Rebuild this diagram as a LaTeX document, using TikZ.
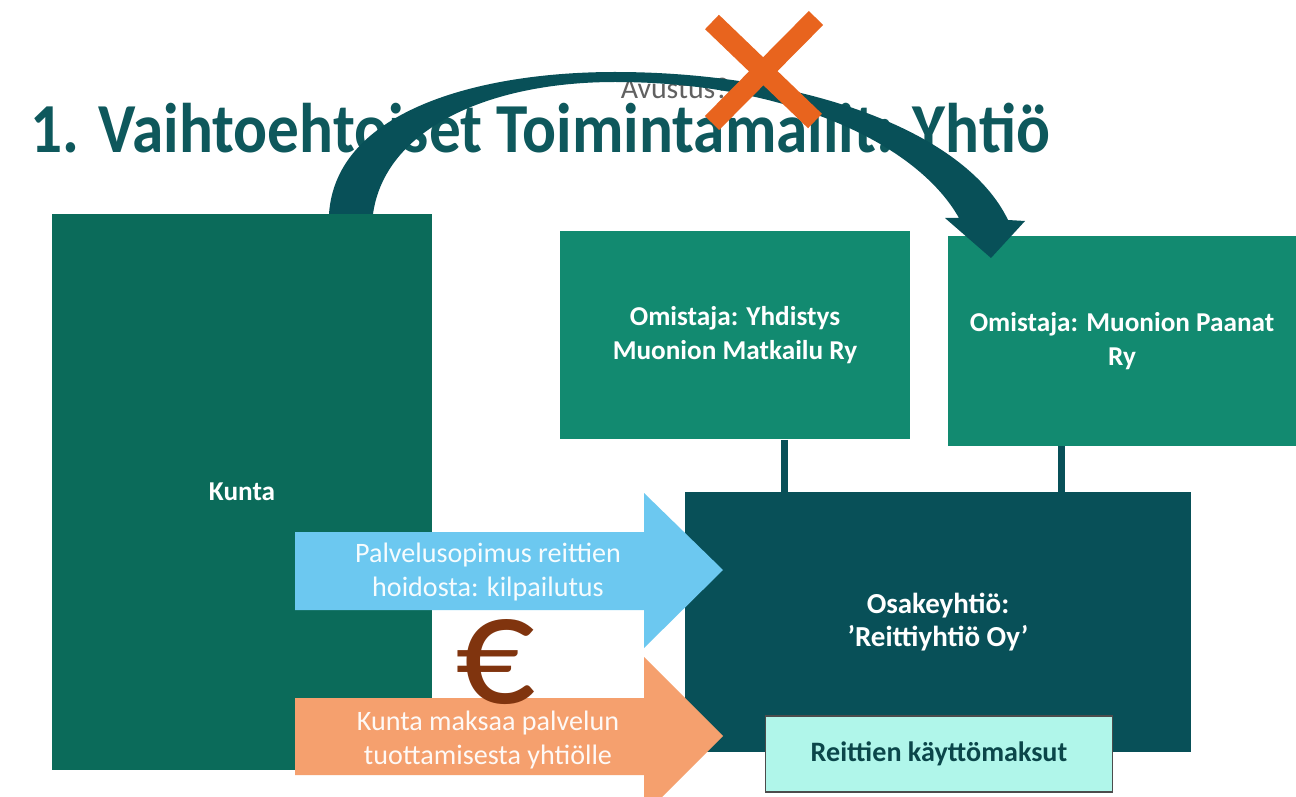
\documentclass[tikz,border=0pt]{standalone}
\usepackage{fontspec}
\setmainfont{Carlito}
\usetikzlibrary{positioning,calc}
\definecolor{kuntagreen}{RGB}{11,107,90}
\definecolor{ownergreen}{RGB}{18,138,112}
\definecolor{companyteal}{RGB}{8,80,88}
\definecolor{titleteal}{RGB}{14,88,92}
\definecolor{skyblue}{RGB}{108,200,240}
\definecolor{peach}{RGB}{245,160,110}
\definecolor{mint}{RGB}{176,246,234}
\definecolor{eurobrown}{RGB}{128,52,14}
\definecolor{crossorange}{RGB}{232,100,30}

\begin{document}
\begin{tikzpicture}[x=0.02cm,y=-0.02cm,
  box/.style={fill=#1,text=white,align=center,inner sep=0pt,font=\bfseries\fontsize{15.5}{19}\selectfont},
  flowtext/.style={text=white!94!#1,align=center,font=\fontsize{16}{19.5}\selectfont},
  link/.style={draw=companyteal,line width=0.14cm}]
\useasboundingbox[fill=white] (0,0) rectangle (1296,797);
\clip (0,0) rectangle (1296,797);
\node[anchor=base west,inner sep=0pt,text=titleteal,font=\bfseries\fontsize{40}{40}\selectfont] (title) at (30,153) {\scalebox{0.9}[1]{1. Vaihtoehtoiset Toimintamallit: Yhtiö}};
\node[text=black!62,font=\fontsize{17}{17}\selectfont] (grant) at (675,88) {Avustus?};
\node[box=kuntagreen,minimum width=7.6cm,minimum height=11.12cm] (kunta) at (242,492) {Kunta};
\node[box=ownergreen,minimum width=7cm,minimum height=4.18cm] (yhd) at (735,335) {Omistaja: Yhdistys\\Muonion Matkailu Ry};
\node[box=ownergreen,minimum width=6.96cm,minimum height=4.2cm] (paanat) at (1122,341) {Omistaja: Muonion Paanat\\Ry};
\node[box=companyteal,minimum width=10.14cm,minimum height=5.2cm,font=\bfseries\fontsize{16.5}{19}\selectfont] (osake) at (938,622) {Osakeyhtiö:\\’Reittiyhtiö Oy’};
\draw[link] ([xshift=1cm]yhd.south) -- ([xshift=1cm]yhd.south |- osake.north);
\draw[link] ([xshift=-1.22cm]paanat.south) -- ([xshift=-1.22cm]paanat.south |- osake.north);
\fill[skyblue] (295,532) -- (644,532) -- (644,493) -- (723,570) -- (644,648) -- (644,610) -- (295,610) -- cycle;
\fill[peach] (295,698) -- (644,698) -- (644,657) -- (723,736) -- (644,815) -- (644,775) -- (295,775) -- cycle;
\node[flowtext=skyblue] (contract) at (488,572) {Palvelusopimus reittien\\hoidosta: kilpailutus};
\node[flowtext=peach] (payment) at (488,740) {Kunta maksaa palvelun\\tuottamisesta yhtiölle};
\node[text=eurobrown,inner sep=0pt,font=\fontsize{90}{90}\selectfont] (euro) at (496,662) {€};
\node[draw=black!70,line width=0.8pt,fill=mint,text=titleteal!80!black,minimum width=6.94cm,minimum height=1.52cm,font=\bfseries\fontsize{16}{18}\selectfont] (fees) at (939,754) {Reittien käyttömaksut};
\fill[companyteal] (329,214) .. controls (336,110) and (480,72) .. (615,72)
  .. controls (800,72) and (965,130) .. (1008,220) -- (1025,221) -- (991,258) -- (945,218) -- (959,218)
  .. controls (915,140) and (780,82) .. (615,82)
  .. controls (490,82) and (385,128) .. (373,214) -- cycle;
\draw[crossorange,line width=0.4cm] (712,22) -- (815,121) (816,18) -- (712,123);
\end{tikzpicture}
\end{document}
